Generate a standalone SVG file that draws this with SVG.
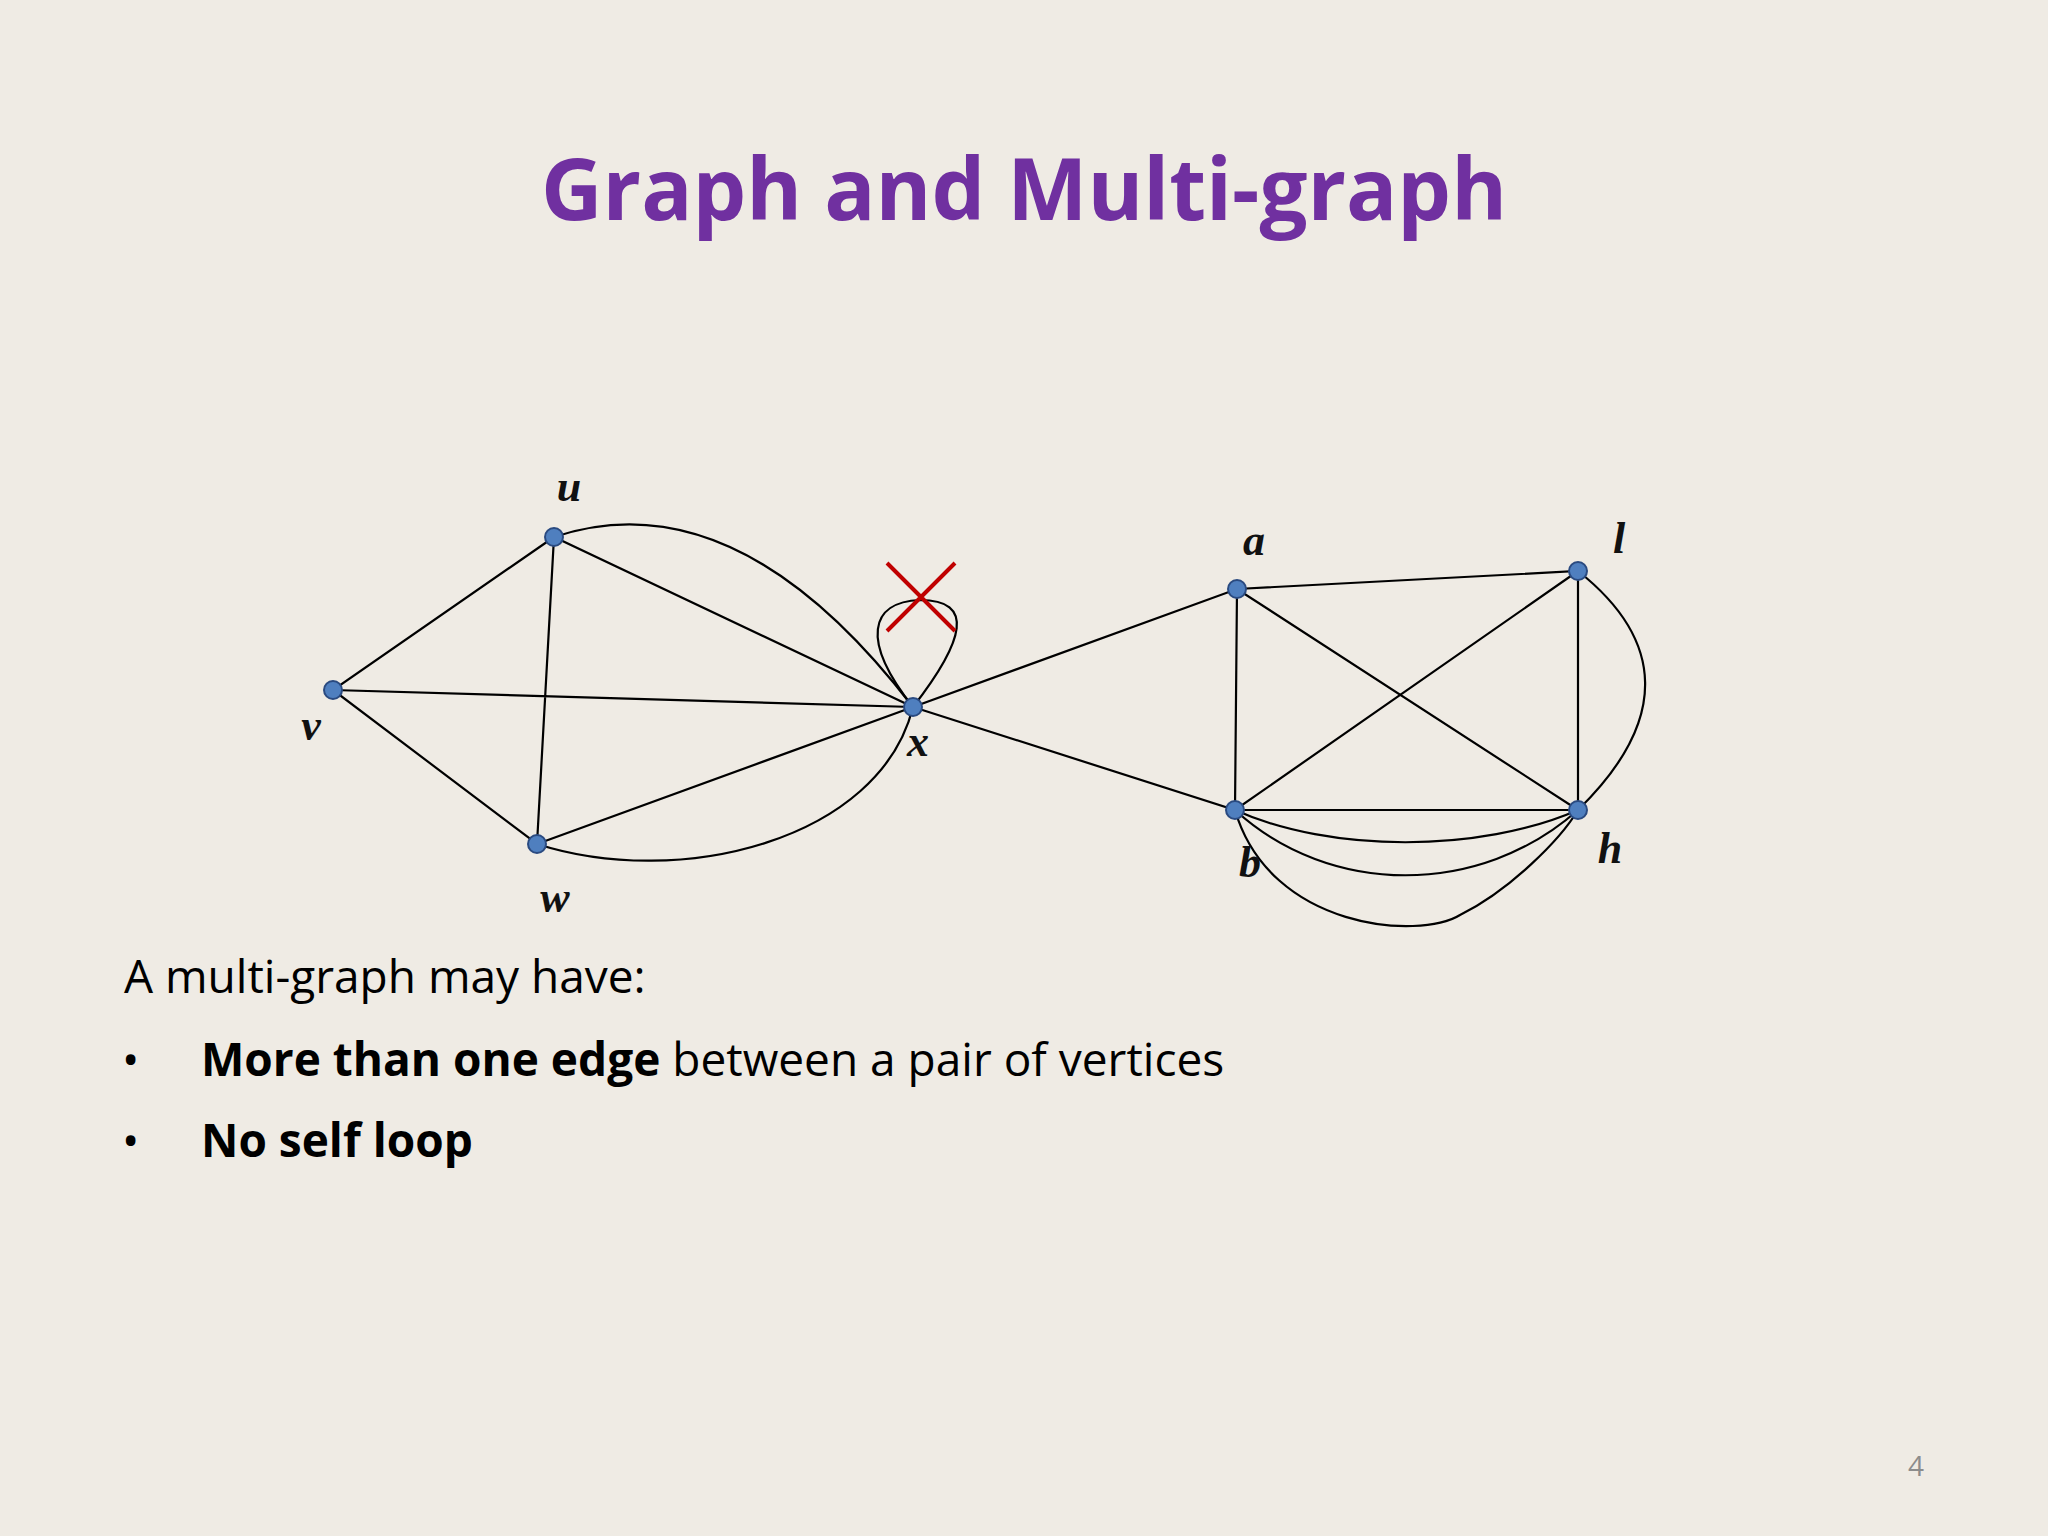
<svg xmlns="http://www.w3.org/2000/svg" width="2048" height="1536" viewBox="0 0 2048 1536">
<style>
.e{fill:none;stroke:#000;stroke-width:2.2}
.n{fill:#4f7fbf;stroke:#2a4a80;stroke-width:2}
.lb{font-family:"Liberation Serif",serif;font-style:italic;font-weight:bold;font-size:44px;fill:#111}
.t{font-family:"Open Sans","Liberation Sans",sans-serif;font-size:46px;fill:#000}
</style>
<rect width="2048" height="1536" fill="#efebe4"/>
<text x="1024" y="220" text-anchor="middle" font-family="Open Sans, Liberation Sans, sans-serif" font-weight="bold" font-size="86" fill="#7030a0" textLength="966" lengthAdjust="spacingAndGlyphs">Graph and Multi-graph</text>
<g id="edges">
<path class="e" d="M554,537 L333,690 L537,844 L554,537 L913,707 L333,690 M537,844 L913,707 L1237,589 L1578,571 L1578,810 L1235,810 L1237,589 L1578,810 M1578,571 L1235,810 L913,707"/>
<path class="e" d="M554,537 C680,495 800,560 913,707"/>
<path class="e" d="M537,844 C680,890 880,840 913,707"/>
<path class="e" d="M913,707 C860,640 870,602 920,600 C975,600 965,640 913,707"/>
<path class="e" d="M1578,571 C1665,640 1670,720 1578,810"/>
<path class="e" d="M1235,810 C1330,853 1480,853 1578,810"/>
<path class="e" d="M1235,810 C1330,897 1480,897 1578,810"/>
<path class="e" d="M1235,810 C1270,930 1420,940 1460,915 C1510,890 1560,840 1578,810"/>
<path d="M887,563 L955,631 M955,563 L887,631" stroke="#c00000" stroke-width="4" fill="none"/>
</g>
<g id="u"><circle class="n" cx="554" cy="537" r="9"/><text class="lb" x="569" y="501" text-anchor="middle">u</text></g>
<g id="v"><circle class="n" cx="333" cy="690" r="9"/><text class="lb" x="311" y="740" text-anchor="middle">v</text></g>
<g id="w"><circle class="n" cx="537" cy="844" r="9"/><text class="lb" x="555" y="912" text-anchor="middle">w</text></g>
<g id="x"><circle class="n" cx="913" cy="707" r="9"/><text class="lb" x="918" y="756" text-anchor="middle">x</text></g>
<g id="a"><circle class="n" cx="1237" cy="589" r="9"/><text class="lb" x="1254" y="555" text-anchor="middle">a</text></g>
<g id="l"><circle class="n" cx="1578" cy="571" r="9"/><text class="lb" x="1619" y="553" text-anchor="middle">l</text></g>
<g id="b"><circle class="n" cx="1235" cy="810" r="9"/><text class="lb" x="1250" y="877" text-anchor="middle">b</text></g>
<g id="h"><circle class="n" cx="1578" cy="810" r="9"/><text class="lb" x="1610" y="863" text-anchor="middle">h</text></g>
<text class="t" x="124" y="993">A multi-graph may have:</text>
<text class="t" x="122" y="1076">•</text>
<text class="t" x="201" y="1076"><tspan font-weight="bold">More than one edge</tspan> between a pair of vertices</text>
<text class="t" x="122" y="1157">•</text>
<text class="t" x="201" y="1157" font-weight="bold">No self loop</text>
<text x="1916" y="1476" text-anchor="middle" font-family="Open Sans, Liberation Sans, sans-serif" font-size="28" fill="#8c8c8c">4</text>
</svg>
